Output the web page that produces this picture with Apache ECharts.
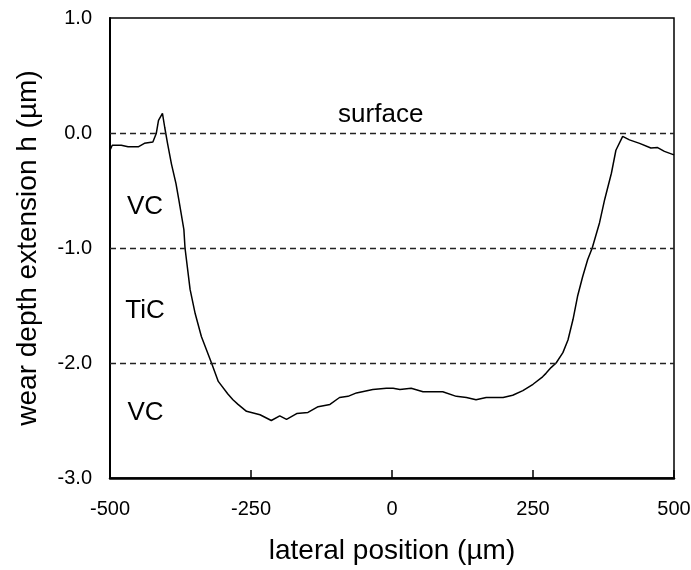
<!DOCTYPE html>
<html>
<head>
<meta charset="utf-8">
<script src="https://cdn.jsdelivr.net/npm/echarts@6/dist/echarts.min.js"></script>
<style>
html,body{margin:0;padding:0;background:#fff;}
#chart{width:691px;height:570px;}
</style>
</head>
<body>
<div id="chart"></div>
<script>
// lateral position (µm)
var posX = [-500,-496,-480,-468,-450,-439,-424,-418,-414,-407,-403,-398,-391,-383,-378,-369,-367,-358,-349,-338,-320,-308,-291,-282,-273,-258,-234,-214,-199,-187,-169,-149,-131,-110,-93,-78,-63,-34,-10,2,14,34,55,90,114,132,149,167,197,214,232,250,267,273,282,291,303,312,321,329,338,347,355,368,377,389,397,409,421,439,459,471,483,500];
// wear depth extension h (µm)
var depthH = [-0.15,-0.107,-0.107,-0.12,-0.12,-0.09,-0.078,-0.005,0.11,0.17,0.05,-0.09,-0.27,-0.44,-0.58,-0.84,-1.0,-1.36,-1.57,-1.77,-2.0,-2.16,-2.27,-2.32,-2.36,-2.42,-2.45,-2.50,-2.46,-2.49,-2.44,-2.43,-2.38,-2.36,-2.30,-2.29,-2.26,-2.23,-2.22,-2.22,-2.23,-2.22,-2.25,-2.25,-2.29,-2.30,-2.32,-2.30,-2.30,-2.28,-2.24,-2.185,-2.12,-2.09,-2.04,-2.0,-1.91,-1.80,-1.62,-1.42,-1.25,-1.10,-1.0,-0.78,-0.58,-0.35,-0.15,-0.03,-0.06,-0.09,-0.13,-0.127,-0.16,-0.19];
// layer boundaries
var boundaries = [0, -1, -2];
// annotation labels
var labelText = ['surface', 'VC', 'TiC', 'VC'];
var labelX = [-20, -438, -438, -437];
var labelY = [0.16, -0.64, -1.55, -2.43];
var xTicks = {min: -500, max: 500, interval: 250};
var yTicks = {min: -3, max: 1, interval: 1};

var font = 'Liberation Sans, Arial, sans-serif';
var chart = echarts.init(document.getElementById('chart'));
var curve = posX.map(function (x, i) { return [x, depthH[i]]; });
var labelPts = labelText.map(function (t, i) { return {value: [labelX[i], labelY[i]], name: t}; });

chart.setOption({
  animation: false,
  backgroundColor: '#fff',
  grid: {left: 110, right: 17, top: 18, bottom: 92, show: true, borderColor: '#000', borderWidth: 1.5,
    backgroundColor: 'transparent', containLabel: false, outerBoundsMode: 'none'},
  xAxis: {
    type: 'value', min: xTicks.min, max: xTicks.max, interval: xTicks.interval,
    name: 'lateral position (µm)', nameLocation: 'middle', nameGap: 59,
    nameTextStyle: {fontFamily: font, fontSize: 28, color: '#000'},
    axisLine: {show: true, onZero: false, lineStyle: {color: '#000', width: 2.5}},
    axisTick: {show: true, inside: true, length: 8, lineStyle: {color: '#000', width: 1.5}},
    axisLabel: {fontFamily: font, fontSize: 20, color: '#000', margin: 21},
    splitLine: {show: false}
  },
  yAxis: {
    type: 'value', min: yTicks.min, max: yTicks.max, interval: yTicks.interval,
    name: 'wear depth extension h (µm)', nameLocation: 'middle', nameGap: 68,
    nameTextStyle: {fontFamily: font, fontSize: 28, color: '#000'},
    axisLine: {show: true, onZero: false, lineStyle: {color: '#000', width: 2}},
    axisTick: {show: false},
    axisLabel: {fontFamily: font, fontSize: 20, color: '#000', margin: 18,
      formatter: function (v) { return v.toFixed(1); }},
    splitLine: {show: false}
  },
  series: [
    {
      type: 'line', data: curve, symbol: 'none', smooth: false,
      lineStyle: {color: '#000', width: 1.5},
      markLine: {
        silent: true, symbol: 'none', label: {show: false},
        lineStyle: {color: '#222', type: [6, 4], width: 1.3},
        data: boundaries.map(function (b) { return {yAxis: b}; })
      }
    },
    {
      type: 'scatter', data: labelPts, symbolSize: 1, silent: true,
      itemStyle: {color: 'rgba(0,0,0,0)', opacity: 1},
      label: {show: true, position: 'inside', formatter: '{b}', fontFamily: font, fontSize: 26, color: '#000',
        opacity: 1, textBorderWidth: 0}
    }
  ]
});
</script>
</body>
</html>
